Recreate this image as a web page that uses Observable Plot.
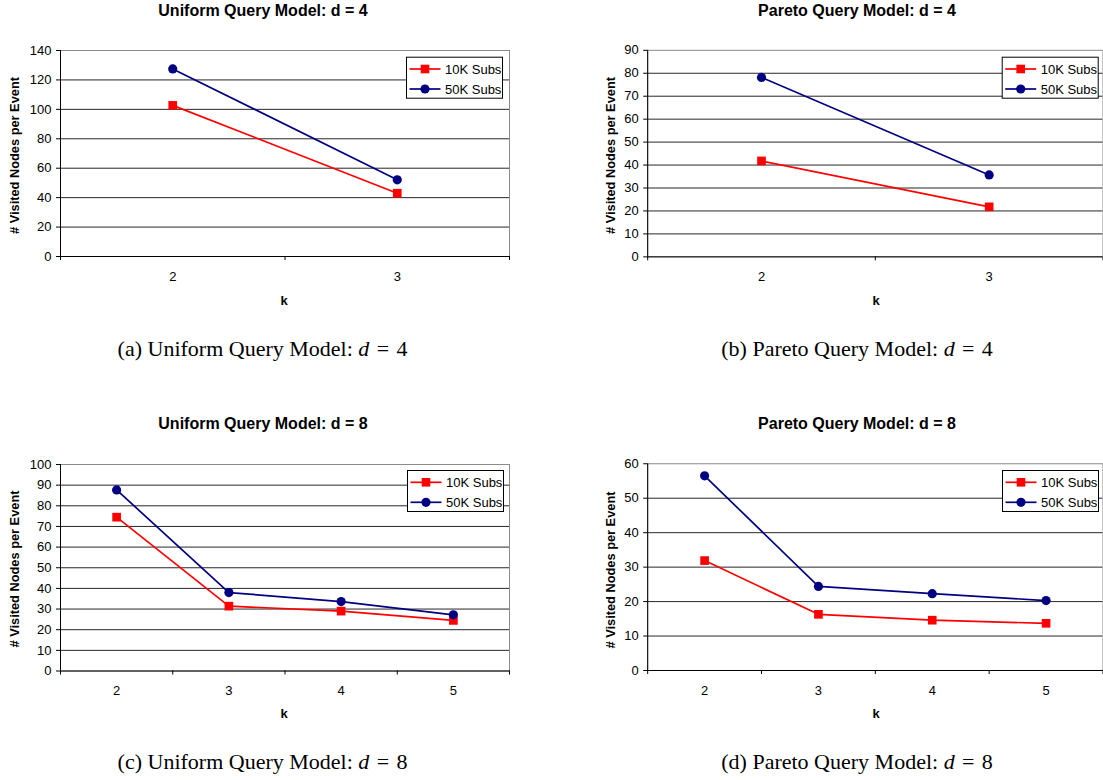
<!DOCTYPE html>
<html><head><meta charset="utf-8">
<script src="https://cdn.jsdelivr.net/npm/d3@7"></script>
<script src="https://cdn.jsdelivr.net/npm/@observablehq/plot@0.6"></script>
<style>
body{margin:0;background:#fff}
#page{position:relative;width:1103px;height:780px;overflow:hidden;background:#fff}
#page > div{position:absolute}
#overlay{position:absolute;left:0;top:0}
</style>
</head><body>
<div id="page"></div>
<script>
// ---- data ----
const kShort = [2, 3];
const kLong = [2, 3, 4, 5];
const uni4_10K = [102.7, 43.0];
const uni4_50K = [127.5, 52.1];
const par4_10K = [41.8, 21.8];
const par4_50K = [78.2, 35.7];
const uni8_10K = [74.5, 31.4, 29.0, 24.5];
const uni8_50K = [87.7, 38.0, 33.6, 27.2];
const par8_10K = [31.9, 16.3, 14.6, 13.7];
const par8_50K = [56.5, 24.4, 22.3, 20.3];
const seriesNames = ["10K Subs", "50K Subs"];
const yMaxes = [140, 90, 100, 60];
const ySteps = [20, 10, 10, 10];
const titles = ["Uniform Query Model: d = 4", "Pareto Query Model: d = 4", "Uniform Query Model: d = 8", "Pareto Query Model: d = 8"];
const captionLetters = ["(a)", "(b)", "(c)", "(d)"];
const captionModels = ["Uniform Query Model:", "Pareto Query Model:", "Uniform Query Model:", "Pareto Query Model:"];
const captionD = ["4", "4", "8", "8"];
const yLabel = "# Visited Nodes per Event";
const xLabel = "k";

const RED = "#FF0000", NAVY = "#000080";
const SANS = '"Liberation Sans", Arial, sans-serif';
const SERIF = '"Liberation Serif", "Times New Roman", serif';

// layout of each panel (page pixels)
const panels = [
  {ks: kShort, s10: uni4_10K, s50: uni4_50K, left: 0,   top: 0,   width: 551, height: 330, mL: 60,   mR: 42,  mT: 50,   mB: 74,   lx: 406,  ly: 56.7},
  {ks: kShort, s10: par4_10K, s50: par4_50K, left: 560, top: 0,   width: 545, height: 330, mL: 87.5, mR: 0.5, mT: 50,   mB: 72.7, lx: 1001.7, ly: 56.7},
  {ks: kLong,  s10: uni8_10K, s50: uni8_50K, left: 0,   top: 400, width: 551, height: 330, mL: 60,   mR: 42,  mT: 64,   mB: 59.5, lx: 407,  ly: 470},
  {ks: kLong,  s10: par8_10K, s50: par8_50K, left: 560, top: 400, width: 545, height: 330, mL: 87.5, mR: 0.5, mT: 63.5, mB: 59,   lx: 1002, ly: 470}
];

const page = document.getElementById("page");

panels.forEach((p, i) => {
  const yMax = yMaxes[i], step = ySteps[i];
  const yTicks = d3.range(0, yMax + step / 2, step);
  const x0 = p.ks[0] - 0.5, x1 = p.ks[p.ks.length - 1] + 0.5;
  const bounds = d3.range(x0, x1 + 0.01, 1);
  const r10 = p.ks.map((k, j) => ({k, v: p.s10[j]}));
  const r50 = p.ks.map((k, j) => ({k, v: p.s50[j]}));
  const chart = Plot.plot({
    width: p.width, height: p.height,
    marginLeft: p.mL, marginRight: p.mR, marginTop: p.mT, marginBottom: p.mB,
    style: {fontFamily: SANS, fontSize: "13px", background: "transparent", color: "#000", overflow: "visible"},
    x: {type: "linear", domain: [x0, x1]},
    y: {domain: [0, yMax]},
    marks: [
      Plot.gridY({ticks: yTicks.filter(t => t > 0 && t < yMax), stroke: "#000", strokeOpacity: 0.85}),
      Plot.frame({stroke: "#8a8a8a"}),
      Plot.axisY({ticks: yTicks, tickSize: 4, tickPadding: 5, label: null, tickFormat: d => String(d)}),
      Plot.axisX({ticks: bounds, tickSize: 4, tickFormat: () => "", label: null}),
      Plot.axisX({ticks: p.ks, tickSize: 0, tickPadding: 15, label: null, tickFormat: d => String(d)}),
      Plot.ruleX([x0], {stroke: "#000"}),
      Plot.ruleY([0], {stroke: "#000"}),
      Plot.line(r10, {x: "k", y: "v", stroke: RED, strokeWidth: 1.7}),
      Plot.line(r50, {x: "k", y: "v", stroke: NAVY, strokeWidth: 1.7}),
      Plot.dot(r10, {x: "k", y: "v", symbol: "square", r: 4.9, fill: RED, stroke: "none"}),
      Plot.dot(r50, {x: "k", y: "v", symbol: "circle", r: 4.6, fill: NAVY, stroke: "none"})
    ]
  });
  const holder = document.createElement("div");
  holder.style.left = p.left + "px";
  holder.style.top = p.top + "px";
  holder.appendChild(chart);
  page.appendChild(holder);
});

// ---- overlay: titles, axis titles, legends, captions ----
const svg = d3.select(page).append("svg")
  .attr("id", "overlay").attr("width", 1103).attr("height", 780);

const titlePos = [[263, 16], [857, 16], [263, 429], [857, 429]];
const yLabPos = [[14.7, 155.5], [610.2, 155.5], [14.7, 569], [610.2, 570]];
const kPos = [[284, 304.5], [876, 305], [284, 718], [876, 718]];
const capPos = [[262.5, 356], [857, 356], [262.5, 769], [857, 769]];

panels.forEach((p, i) => {
  svg.append("text").attr("x", titlePos[i][0]).attr("y", titlePos[i][1])
    .attr("text-anchor", "middle").attr("font-family", SANS).attr("font-weight", "bold")
    .attr("font-size", 16).text(titles[i]);
  svg.append("text").attr("transform", `translate(${yLabPos[i][0]},${yLabPos[i][1]}) rotate(-90)`)
    .attr("dy", "0.36em").attr("text-anchor", "middle").attr("font-family", SANS)
    .attr("font-weight", "bold").attr("font-size", 12.8).text(yLabel);
  svg.append("text").attr("x", kPos[i][0]).attr("y", kPos[i][1])
    .attr("text-anchor", "middle").attr("font-family", SANS).attr("font-weight", "bold")
    .attr("font-size", 13).text(xLabel);
  const cap = svg.append("text").attr("x", capPos[i][0]).attr("y", capPos[i][1])
    .attr("text-anchor", "middle").attr("font-family", SERIF).attr("font-size", 22);
  cap.append("tspan").text(captionLetters[i] + " " + captionModels[i] + " ");
  cap.append("tspan").attr("font-style", "italic").text("d");
  cap.append("tspan").text("\u2004=\u2004" + captionD[i]);

  // legend
  const g = svg.append("g").attr("transform", `translate(${p.lx},${p.ly})`);
  g.append("rect").attr("x", 0.5).attr("y", 0.5).attr("width", 96).attr("height", 41)
    .attr("fill", "#fff").attr("stroke", "#000").attr("stroke-width", 1);
  const cols = [RED, NAVY];
  [12.3, 32.3].forEach((yy, j) => {
    g.append("line").attr("x1", 3.5).attr("x2", 34.5).attr("y1", yy).attr("y2", yy)
      .attr("stroke", cols[j]).attr("stroke-width", 1.7);
    if (j === 0) {
      g.append("rect").attr("x", 19 - 4.3).attr("y", yy - 4.3).attr("width", 8.6).attr("height", 8.6).attr("fill", cols[j]);
    } else {
      g.append("circle").attr("cx", 19).attr("cy", yy).attr("r", 4.6).attr("fill", cols[j]);
    }
    g.append("text").attr("x", 39).attr("y", yy).attr("dy", "0.36em")
      .attr("font-family", SANS).attr("font-size", 13).text(seriesNames[j]);
  });
});
</script>
</body></html>
